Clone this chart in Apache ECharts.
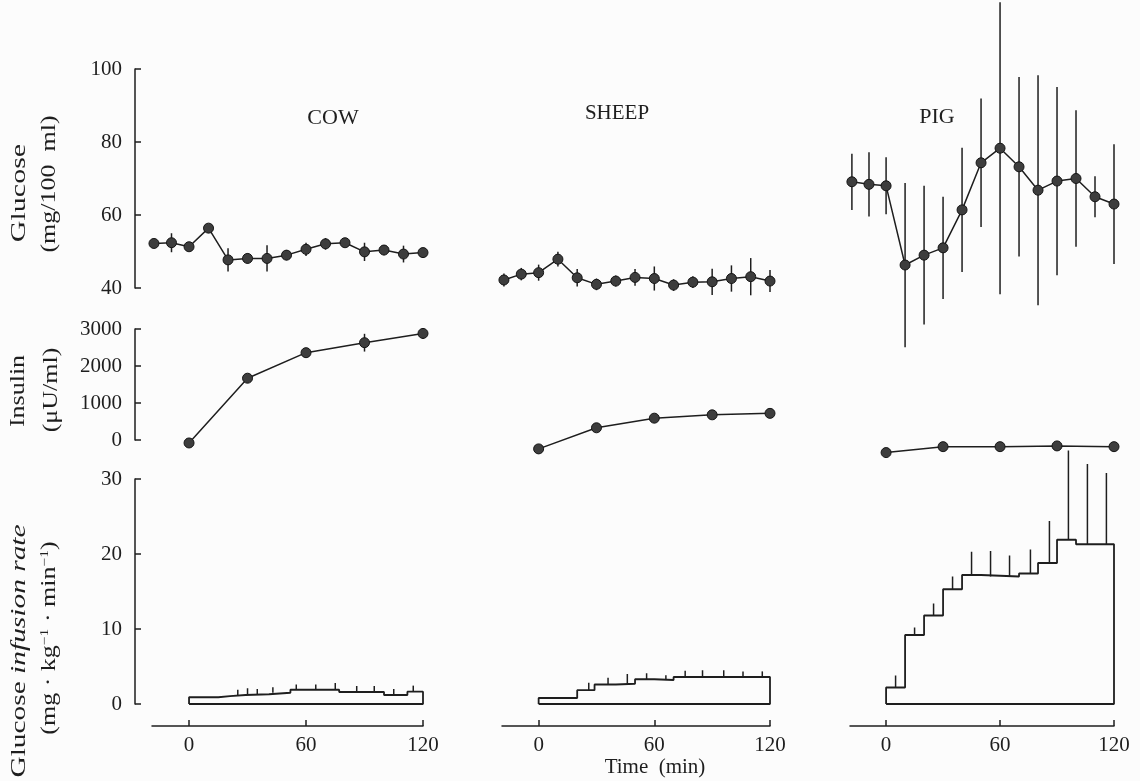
<!DOCTYPE html>
<html>
<head>
<meta charset="utf-8">
<script src="https://cdn.jsdelivr.net/npm/echarts@6/dist/echarts.min.js"></script>
<style>
html,body{margin:0;padding:0;background:#fcfcfc;}
#chart{width:1140px;height:781px;}
</style>
</head>
<body>
<div id="chart"></div>
<script>
// ---------- DATA ----------
const panels = ['COW', 'SHEEP', 'PIG'];
const glucoseTimes = [-18, -9, 0, 10, 20, 30, 40, 50, 60, 70, 80, 90, 100, 110, 120];
const cowGlucose   = [52.2, 52.4, 51.3, 56.4, 47.7, 48.1, 48.1, 49.0, 50.6, 52.1, 52.4, 49.9, 50.4, 49.3, 49.7];
const cowGlucoseSE = [0, 2.6, 0, 0, 3.2, 1.4, 3.6, 1.4, 1.8, 1.6, 0.8, 2.5, 1.4, 2.3, 1.2];
const sheepGlucose   = [42.2, 43.8, 44.2, 47.9, 42.8, 41.0, 41.9, 42.9, 42.6, 40.8, 41.6, 41.7, 42.6, 43.1, 41.9];
const sheepGlucoseSE = [1.8, 1.7, 2.2, 2.0, 2.4, 1.6, 1.5, 2.3, 3.3, 1.6, 1.6, 3.6, 3.6, 5.1, 3.0];
const pigGlucose   = [69.1, 68.4, 68.0, 46.3, 49.0, 51.0, 61.4, 74.3, 78.3, 73.2, 66.8, 69.3, 70.0, 65.0, 63.0];
const pigGlucoseSE = [7.7, 8.8, 7.8, 22.5, 19, 14, 17, 17.6, 40, 24.6, 31.5, 25.8, 18.7, 5.6, 16.4];

const insulinTimes = [0, 30, 60, 90, 120];
const cowInsulin     = [-80, 1670, 2360, 2630, 2880];
const cowInsulinSE   = [0, 0, 0, 240, 150];
const sheepInsulin   = [-240, 330, 590, 680, 720];
const sheepInsulinSE = [0, 0, 100, 100, 120];
const pigInsulin     = [-340, -180, -180, -160, -180];
const pigInsulinSE   = [0, 0, 0, 0, 0];

// glucose infusion rate: step start times and rates
const cowRateT = [0, 15, 21, 29, 41, 52, 77, 100, 112];
const cowRate  = [0.9, 1.05, 1.2, 1.3, 1.5, 1.9, 1.6, 1.2, 1.65];
const cowErrT  = [25, 30, 35, 43, 55, 65, 75, 86, 95, 105, 115];
const cowErr   = [0.7, 0.8, 0.7, 0.75, 0.7, 0.7, 0.9, 0.8, 0.8, 0.8, 0.8];
const sheepRateT = [0, 20, 29, 40, 50, 60, 70];
const sheepRate  = [0.8, 1.85, 2.6, 2.7, 3.3, 3.2, 3.6];
const sheepErrT  = [26, 36, 46, 56, 66, 76, 85, 96, 106, 116];
const sheepErr   = [1.0, 0.9, 1.3, 0.8, 0.65, 0.85, 0.9, 0.9, 0.75, 0.75];
const pigRateT = [0, 10, 20, 30, 40, 50, 70, 80, 90, 100];
const pigRate  = [2.2, 9.2, 11.8, 15.3, 17.2, 17.0, 17.4, 18.8, 21.9, 21.3];
const pigErrT  = [5, 15, 25, 35, 45, 55, 65, 76, 86, 96, 106, 116];
const pigErr   = [1.6, 1.0, 1.6, 1.7, 3.1, 3.4, 2.8, 3.2, 5.6, 11.9, 10.7, 9.5];

const xTickValues = [0, 60, 120];

// ---------- LAYOUT ----------
const SERIF = '"Liberation Serif", "DejaVu Serif", serif';
const INK = '#1e1e1e';
const cols = [{left: 152, width: 271}, {left: 502, width: 268}, {left: 850, width: 264}];
const rows = [{top: 69, height: 219}, {top: 329, height: 111}, {top: 479, height: 225}];
const yRanges = [
  {min: 40, max: 100, interval: 20},
  {min: 0, max: 3000, interval: 1000},
  {min: 0, max: 30, interval: 10}
];

const grids = [], xAxes = [], yAxes = [], series = [];
for (let c = 0; c < 3; c++) {
  for (let r = 0; r < 3; r++) {
    const gi = c * 3 + r;
    grids.push({left: cols[c].left, width: cols[c].width, top: rows[r].top, height: rows[r].height, containLabel: false});
    const showX = r === 2;
    xAxes.push({
      type: 'value', gridIndex: gi, min: -19, max: 120,
      show: showX, position: 'bottom', offset: 22,
      axisLine: {show: true, onZero: false, lineStyle: {color: INK, width: 1.5}},
      axisTick: {show: true, inside: true, length: 6, customValues: xTickValues, lineStyle: {color: INK, width: 1.5}},
      axisLabel: {show: true, customValues: xTickValues, margin: 9, fontFamily: SERIF, fontSize: 21, color: INK,
                  formatter: v => String(v)},
      splitLine: {show: false}
    });
    const showY = c === 0;
    yAxes.push({
      type: 'value', gridIndex: gi, min: yRanges[r].min, max: yRanges[r].max, interval: yRanges[r].interval,
      show: showY, position: 'left', offset: 17,
      axisLine: {show: true, onZero: false, lineStyle: {color: INK, width: 1.5}},
      axisTick: {show: true, inside: true, length: 6, lineStyle: {color: INK, width: 1.5}},
      axisLabel: {show: true, margin: 13, fontFamily: SERIF, fontSize: 21, color: INK, formatter: v => String(v)},
      splitLine: {show: false}
    });
  }
}

function errBarRender(params, api) {
  const x = api.value(0);
  const p1 = api.coord([x, api.value(1)]);
  const p2 = api.coord([x, api.value(2)]);
  return {type: 'line', shape: {x1: p1[0], y1: p1[1], x2: p2[0], y2: p2[1]},
          style: {stroke: INK, lineWidth: 1.5}};
}

function addPointSeries(gi, times, vals, se) {
  series.push({
    type: 'custom', xAxisIndex: gi, yAxisIndex: gi, clip: false, z: 2,
    renderItem: errBarRender, encode: {x: 0, y: [1, 2]},
    data: times.map((t, i) => [t, vals[i] - se[i], vals[i] + se[i]])
  });
  series.push({
    type: 'line', xAxisIndex: gi, yAxisIndex: gi, clip: false, z: 3,
    symbol: 'circle', symbolSize: 10,
    itemStyle: {color: '#3d3d3d', borderColor: '#151515', borderWidth: 1},
    lineStyle: {color: INK, width: 1.5},
    data: times.map((t, i) => [t, vals[i]])
  });
}

function stepValueAt(T, V, t) {
  let v = V[0];
  for (let i = 0; i < T.length; i++) if (T[i] <= t) v = V[i];
  return v;
}

function addRateSeries(gi, T, V, ET, E) {
  const path = [[0, 0]];
  T.forEach((t, i) => path.push([t, V[i]]));
  path.push([120, V[V.length - 1]]);
  path.push([120, 0]);
  path.push([0, 0]);
  series.push({
    type: 'line', xAxisIndex: gi, yAxisIndex: gi, clip: false, step: 'end',
    symbol: 'none', lineStyle: {color: INK, width: 1.8}, data: path
  });
  series.push({
    type: 'custom', xAxisIndex: gi, yAxisIndex: gi, clip: false,
    renderItem: errBarRender, encode: {x: 0, y: [1, 2]},
    data: ET.map((t, i) => { const b = stepValueAt(T, V, t); return [t, b, b + E[i]]; })
  });
}

addPointSeries(0, glucoseTimes, cowGlucose, cowGlucoseSE);
addPointSeries(1, insulinTimes, cowInsulin, cowInsulinSE);
addRateSeries(2, cowRateT, cowRate, cowErrT, cowErr);
addPointSeries(3, glucoseTimes, sheepGlucose, sheepGlucoseSE);
addPointSeries(4, insulinTimes, sheepInsulin, sheepInsulinSE);
addRateSeries(5, sheepRateT, sheepRate, sheepErrT, sheepErr);
addPointSeries(6, glucoseTimes, pigGlucose, pigGlucoseSE);
addPointSeries(7, insulinTimes, pigInsulin, pigInsulinSE);
addRateSeries(8, pigRateT, pigRate, pigErrT, pigErr);

function vText(x, y, text, size, stretch, extra) {
  return {
    type: 'text', x: x, y: y, rotation: Math.PI / 2, scaleX: stretch, scaleY: 1,
    style: Object.assign({text: text, fontFamily: SERIF, fontSize: size, fill: INK,
      align: 'center', verticalAlign: 'middle', textAlign: 'center', textVerticalAlign: 'middle'}, extra || {})
  };
}
function hText(x, y, text, size) {
  return {type: 'text', x: x, y: y,
    style: {text: text, fontFamily: SERIF, fontSize: size, fill: INK,
      align: 'center', verticalAlign: 'middle', textAlign: 'center', textVerticalAlign: 'middle'}};
}

const graphics = [
  hText(333, 118, panels[0], 22),
  hText(617, 113, panels[1], 21),
  hText(937, 117, panels[2], 22),
  hText(655, 767, 'Time  (min)', 21),
  vText(20, 193, 'Glucose', 20, 1.5),
  vText(50, 184, '(mg/100  ml)', 20, 1.3),
  vText(19, 391, 'Insulin', 20, 1.3),
  vText(52, 390, '(\u03bcU/ml)', 20, 1.3),
  vText(19, 651, '{n|Glucose }{i|infusion rate}', 21, 1.4, {rich: {
    n: {fontFamily: SERIF, fontSize: 21, fill: INK},
    i: {fontFamily: SERIF, fontSize: 21, fontStyle: 'italic', fill: INK}}}),
  vText(50, 638, '{n|(mg \u00b7 kg}{s|\u22121}{n| \u00b7 min}{s|\u22121}{n|)}', 20, 1.3, {rich: {
    n: {fontFamily: SERIF, fontSize: 20, fill: INK, lineHeight: 22},
    s: {fontFamily: SERIF, fontSize: 12, fill: INK, verticalAlign: 'top', lineHeight: 22}}})
];

const chart = echarts.init(document.getElementById('chart'), null, {renderer: 'canvas'});
chart.setOption({
  backgroundColor: '#fcfcfc',
  animation: false,
  grid: grids, xAxis: xAxes, yAxis: yAxes, series: series,
  graphic: graphics
});
</script>
</body>
</html>
